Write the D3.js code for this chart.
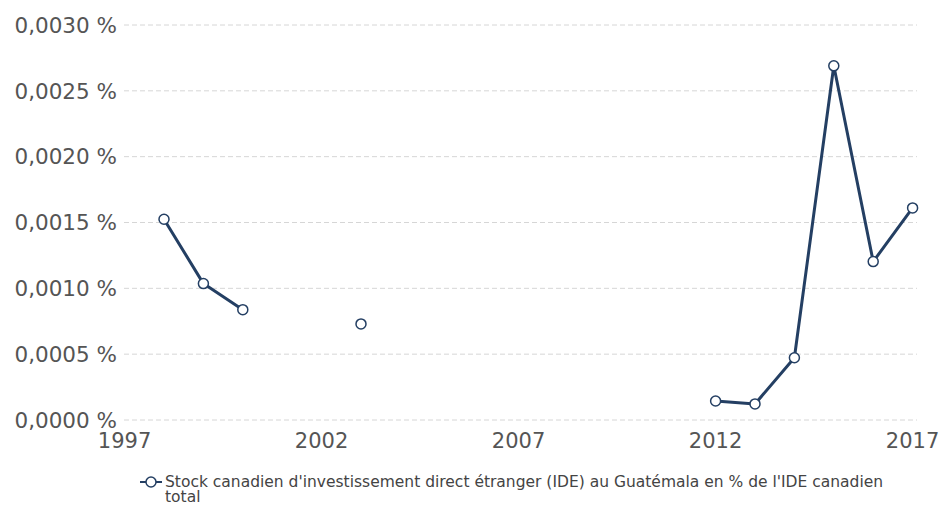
<!DOCTYPE html>
<html>
<head>
<meta charset="utf-8">
<script src="https://cdn.jsdelivr.net/npm/d3@7"></script>
<style>
  html, body { margin: 0; padding: 0; background: #fff; }
  svg { display: block; }
</style>
</head>
<body>
<svg id="chart" width="941" height="506"></svg>
<script>
const years = [1997, 1998, 1999, 2000, 2001, 2002, 2003, 2004, 2005, 2006, 2007, 2008, 2009, 2010, 2011, 2012, 2013, 2014, 2015, 2016, 2017];
const values = [null, 0.001525, 0.001036, 0.000838, null, null, 0.00073, null, null, null, null, null, null, null, null, 0.000144, 0.000122, 0.000473, 0.00269, 0.001203, 0.001611];
const xTicks = [1997, 2002, 2007, 2012, 2017];
const yTicks = [0, 0.0005, 0.001, 0.0015, 0.002, 0.0025, 0.003];
const seriesName = "Stock canadien d'investissement direct étranger (IDE) au Guatémala en % de l'IDE canadien total";

const data = years.map((y, i) => ({ year: y, value: values[i] }));

const svg = d3.select("#chart");
const font = "'DejaVu Sans', Verdana, sans-serif";
const lineColor = "#243f63";
const textColor = "#555";

const x = d3.scaleLinear().domain([1997, 2017]).range([124.6, 912.6]);
const y = d3.scaleLinear().domain([0, 0.003]).range([420, 25]);

const loc = d3.formatLocale({ decimal: ",", thousands: " ", grouping: [3], currency: ["", " €"] });
const fmt = loc.format(".4f");

// gridlines
svg.append("g").selectAll("line").data(yTicks).join("line")
  .attr("x1", 124).attr("x2", 917)
  .attr("y1", d => y(d)).attr("y2", d => y(d))
  .attr("stroke", "#d6d6d6").attr("stroke-width", 1)
  .attr("stroke-dasharray", "5,3");

// y labels
svg.append("g").selectAll("text").data(yTicks).join("text")
  .attr("x", 117).attr("y", d => y(d)).attr("dy", "0.36em")
  .attr("text-anchor", "end")
  .attr("font-family", font).attr("font-size", 21.5).attr("fill", textColor)
  .text(d => fmt(d) + " %");

// x labels
svg.append("g").selectAll("text").data(xTicks).join("text")
  .attr("x", d => x(d)).attr("y", 448)
  .attr("text-anchor", "middle")
  .attr("font-family", font).attr("font-size", 21).attr("fill", textColor)
  .text(d => d);

// line
const line = d3.line().defined(d => d.value != null).x(d => x(d.year)).y(d => y(d.value));
svg.append("path").datum(data)
  .attr("d", line).attr("fill", "none")
  .attr("stroke", lineColor).attr("stroke-width", 3)
  .attr("stroke-linejoin", "round");

// markers
svg.append("g").selectAll("circle").data(data.filter(d => d.value != null)).join("circle")
  .attr("cx", d => x(d.year)).attr("cy", d => y(d.value)).attr("r", 5)
  .attr("fill", "#fff").attr("stroke", lineColor).attr("stroke-width", 1.5);

// legend
const lg = svg.append("g");
lg.append("line").attr("x1", 140).attr("x2", 162).attr("y1", 482).attr("y2", 482)
  .attr("stroke", lineColor).attr("stroke-width", 2);
lg.append("circle").attr("cx", 151).attr("cy", 482).attr("r", 5)
  .attr("fill", "#fff").attr("stroke", lineColor).attr("stroke-width", 1.5);

const lt = lg.append("text").attr("x", 165).attr("y", 487)
  .attr("font-family", font).attr("font-size", 15.5).attr("fill", "#444");
// word wrap
const maxW = 725;
const words = seriesName.split(" ");
let lineWords = [];
let tspan = lt.append("tspan").attr("x", 165).attr("dy", 0);
for (const w of words) {
  lineWords.push(w);
  tspan.text(lineWords.join(" "));
  if (tspan.node().getComputedTextLength() > maxW && lineWords.length > 1) {
    lineWords.pop();
    tspan.text(lineWords.join(" "));
    lineWords = [w];
    tspan = lt.append("tspan").attr("x", 165).attr("dy", 15).text(w);
  }
}
</script>
</body>
</html>
